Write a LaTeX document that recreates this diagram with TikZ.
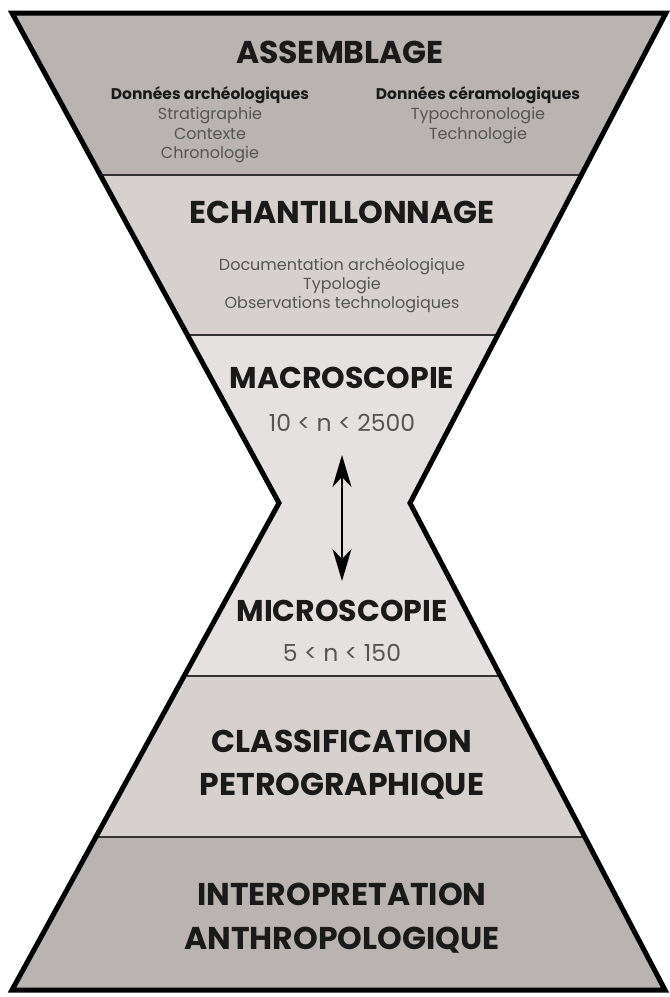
\documentclass[tikz,border=0pt]{standalone}
\usepackage{fontspec}
\setmainfont{Poppins}
\usetikzlibrary{arrows.meta}
\definecolor{bandA}{RGB}{185,179,177}
\definecolor{bandB}{RGB}{214,209,207}
\definecolor{bandC}{RGB}{229,225,224}
\definecolor{titlecol}{RGB}{26,26,26}
\definecolor{smallcol}{RGB}{85,85,85}
\tikzset{
  title/.style={anchor=base,inner sep=0pt,text=titlecol,font=\bfseries\fontsize{31.5}{32}\selectfont},
  midtitle/.style={anchor=base,inner sep=0pt,text=titlecol,font=\bfseries\fontsize{30}{30}\selectfont},
  subhead/.style={anchor=base,inner sep=0pt,text=titlecol,font=\bfseries\fontsize{15.5}{16}\selectfont},
  small/.style={anchor=base,inner sep=0pt,text=smallcol,font=\fontsize{16}{16}\selectfont},
  count/.style={anchor=base,inner sep=0pt,text=smallcol,font=\fontsize{23.5}{24}\selectfont},
  sep/.style={line width=1.8pt,draw=black!80},
  outline/.style={line width=5pt,draw=black,line join=miter},
}
\begin{document}
\begin{tikzpicture}[x=1pt,y=-1pt]
\useasboundingbox (0,0) rectangle (670,997);
\coordinate (TL) at (12,13);
\coordinate (TR) at (666,13);
\coordinate (WR) at (410,503);
\coordinate (BR) at (665,990);
\coordinate (BL) at (12,990);
\coordinate (WL) at (279,503);
\begin{scope}
  \clip (TL) -- (TR) -- (WR) -- (BR) -- (BL) -- (WL) -- cycle;
  \fill[bandA] (0,0) rectangle (670,175);
  \fill[bandB] (0,175) rectangle (670,335);
  \fill[bandC] (0,335) rectangle (670,676);
  \fill[bandB] (0,676) rectangle (670,837);
  \fill[bandA] (0,837) rectangle (670,997);
  \draw[sep] (0,175) -- (670,175);
  \draw[sep] (0,335) -- (670,335);
  \draw[sep] (0,676) -- (670,676);
  \draw[sep] (0,837) -- (670,837);
\end{scope}
\draw[outline] (TL) -- (TR) -- (WR) -- (BR) -- (BL) -- (WL) -- cycle;

\node[title] (assemblage) at (340,63) {ASSEMBLAGE};
\node[subhead] (darch) at (210,99) {Données archéologiques};
\node[small] (strat) at (210,119) {Stratigraphie};
\node[small] (ctx) at (210,139) {Contexte};
\node[small] (chrono) at (210,158.5) {Chronologie};
\node[subhead] (dcer) at (478,99) {Données céramologiques};
\node[small] (typoc) at (478,119) {Typochronologie};
\node[small] (techno) at (478,139) {Technologie};

\node[title] (echant) at (342,223) {ECHANTILLONNAGE};
\node[small] (docu) at (342,270) {Documentation archéologique};
\node[small] (typo) at (342,289) {Typologie};
\node[small] (obs) at (342,308) {Observations technologiques};

\node[midtitle] (macro) at (342,388) {MACROSCOPIE};
\node[count] (nmacro) at (342,431) {10 < n < 2500};
\node[midtitle] (micro) at (342,621) {MICROSCOPIE};
\node[count] (nmicro) at (342,661) {5 < n < 150};

\coordinate (arrtop) at (342,455);
\coordinate (arrbot) at (342,581);
\draw[line width=1.8pt,{Stealth[length=32pt,width=19pt,inset=10pt]}-{Stealth[length=32pt,width=19pt,inset=10pt]}] (arrtop) -- (arrbot);

\node[title] (classif) at (342,752) {CLASSIFICATION};
\node[title] (petro) at (342,795) {PETROGRAPHIQUE};
\node[title] (interp) at (342,905) {INTEROPRETATION};
\node[title] (anthro) at (342,949) {ANTHROPOLOGIQUE};
\end{tikzpicture}
\end{document}
